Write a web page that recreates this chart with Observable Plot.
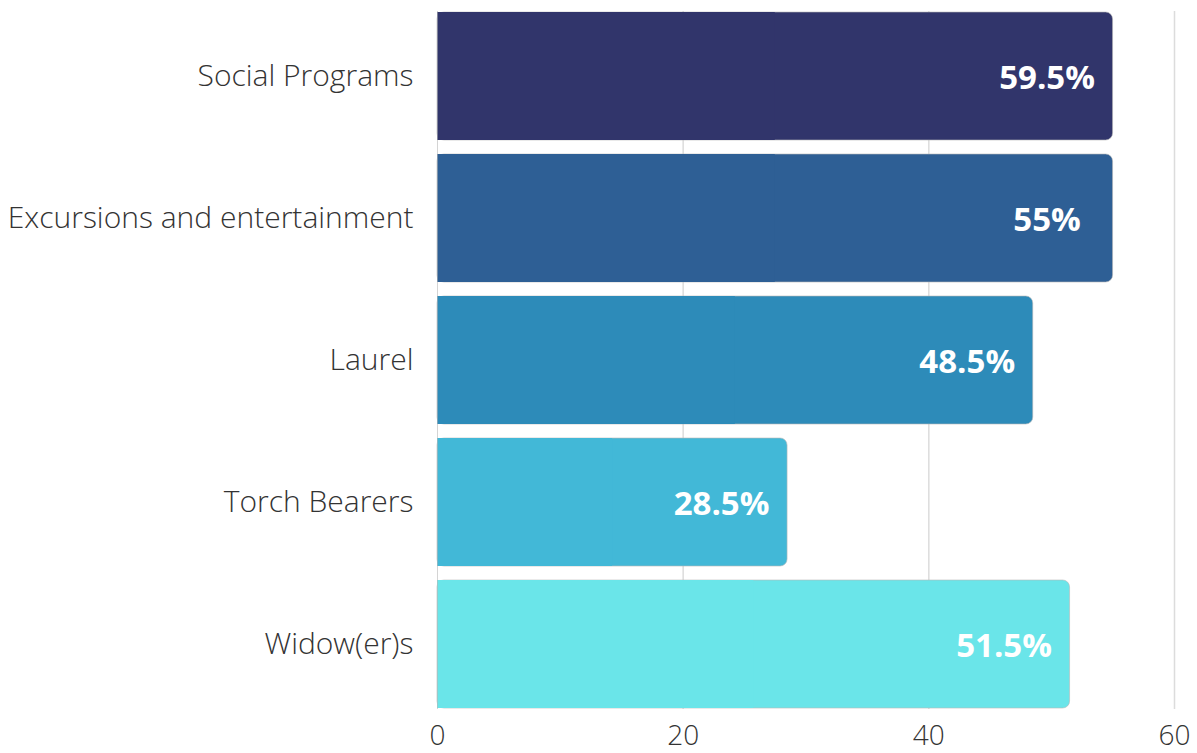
<!DOCTYPE html>
<html>
<head>
<meta charset="utf-8">
<script src="https://cdn.jsdelivr.net/npm/d3@7"></script>
<script src="https://cdn.jsdelivr.net/npm/@observablehq/plot@0.6"></script>
<style>
  html, body { margin: 0; padding: 0; background: #fff; }
  #chart svg { display: block; }
</style>
</head>
<body>
<div id="chart"></div>
<script>
const categories = ["Social Programs", "Excursions and entertainment", "Laurel", "Torch Bearers", "Widow(er)s"];
const barValues = [55, 55, 48.5, 28.5, 51.5];
const valueLabels = ["59.5%", "55%", "48.5%", "28.5%", "51.5%"];
const barColors = ["#31356b", "#2e5f95", "#2d8bb9", "#42b8d7", "#6ae5e9"];
const xTicks = [0, 20, 40, 60];

const data = categories.map((c, i) => ({cat: c, v: barValues[i], label: valueLabels[i], color: barColors[i]}));

const chart = Plot.plot({
  width: 1197,
  height: 753,
  marginLeft: 437,
  marginRight: 23,
  marginTop: 11,
  marginBottom: 44,
  style: {fontFamily: "'Open Sans', sans-serif", fontSize: "28px", color: "#333", background: "#fff"},
  x: {domain: [0, 60], ticks: xTicks, label: null},
  y: {domain: categories, paddingInner: 0.1, paddingOuter: 0, label: null},
  marks: [
    Plot.ruleX(xTicks.slice(1), {stroke: "#dcdcdc", strokeWidth: 1.5}),
    Plot.barX(data, {y: "cat", x1: 0, x2: "v", fill: d => d.color, rx: 7, stroke: "#b8b8b8", strokeOpacity: 0.6, strokeWidth: 1}),
    Plot.barX(data, {y: "cat", x1: 0, x2: d => d.v / 2, fill: d => d.color}),
    Plot.ruleX([0], {stroke: "#b8b8b8", strokeOpacity: 0.6}),
    Plot.text(data, {y: "cat", x: "v", text: "label", fill: "white", fontWeight: "bold", fontSize: 33, textAnchor: "middle", dx: -66, dy: 2}),
    Plot.axisX({ticks: xTicks, tickSize: 0, tickPadding: 16, fontSize: 28, fontWeight: 300, fill: "#333", label: null}),
    Plot.axisY({tickSize: 0, tickPadding: 24, fontSize: 30, fontWeight: 300, fill: "#333", label: null})
  ]
});
document.getElementById("chart").appendChild(chart);
</script>
</body>
</html>
